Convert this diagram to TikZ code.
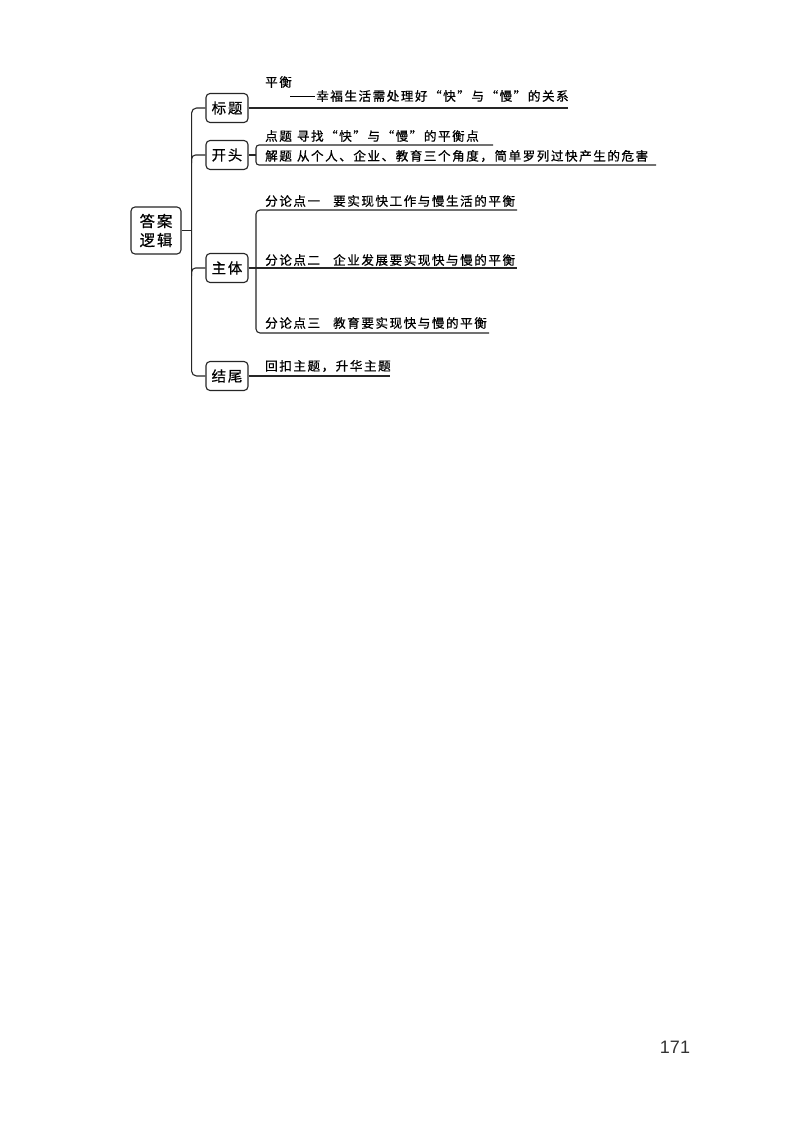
\documentclass[tikz,border=0pt]{standalone}
\usepackage{fontspec}
\setmainfont{Liberation Sans}
\newfontfamily\cjk{Noto Sans CJK SC}[LetterSpace=12, FakeBold=0.6]
\begin{document}
\begin{tikzpicture}[x=1pt,y=-1pt,
  ln/.style={line width=1.1pt, draw=black!85},
  box/.style={draw=black!85, line width=1.1pt, rounded corners=4pt, minimum width=42pt, minimum height=29pt, inner sep=0pt, font=\cjk\fontsize{14.5}{16}\selectfont},
  lbl/.style={anchor=west, inner sep=0pt, font=\cjk\fontsize{12.6}{14}\selectfont}]
\useasboundingbox[fill=white] (0,0) rectangle (800,1128);

% boxes
\node[box, minimum width=50pt, minimum height=47pt, align=center, font=\cjk\fontsize{15.5}{19}\selectfont] (root) at (156,230.5) {答案\\逻辑};
\node[box] (bt) at (227,108) {标题};
\node[box] (kt) at (227,155) {开头};
\node[box] (zt) at (227,268) {主体};
\node[box] (jw) at (227,376) {结尾};

% trunk
\draw[ln] (root.east) -- ++(10,0) coordinate (trm);
\draw[ln,rounded corners=5pt] (bt.west) -- (bt.west -| trm) -- (jw.west -| trm) -- (jw.west);
\draw[ln,rounded corners=4pt] ([yshift=-8pt]kt.west -| trm) |- (kt.west);
\draw[ln,rounded corners=4pt] ([yshift=-8pt]zt.west -| trm) |- (zt.west);

% 标题
\node[lbl] (t1) at (265,82) {平衡};
\node[lbl] (t2) at (290,96) {\rule[0.33em]{25pt}{0.6pt}\hspace{1pt}幸福生活需处理好“快”与“慢”的关系};
\coordinate (btend) at (568,108);
\draw[ln] (bt.east) -- (btend);

% 开头
\node[lbl] (k1) at (265,136) {点题\hspace{5pt}寻找“快”与“慢”的平衡点};
\node[lbl] (k2) at (265,156) {解题\hspace{5pt}从个人、企业、教育三个角度，简单罗列过快产生的危害};
\coordinate (kb) at (256,155);
\draw[ln] (kt.east) -- (kb);
\draw[ln,rounded corners=3pt] (493,145) -- (256,145) -- (256,165) -- (656,165);

% 主体
\node[lbl] (z1) at (265,201) {分论点一\hspace{13pt}要实现快工作与慢生活的平衡};
\node[lbl] (z2) at (265,260) {分论点二\hspace{13pt}企业发展要实现快与慢的平衡};
\node[lbl] (z3) at (265,323) {分论点三\hspace{13pt}教育要实现快与慢的平衡};
\coordinate (zend) at (517,268);
\draw[ln] (zt.east) -- (zend);
\draw[ln,rounded corners=4pt] (517,210) -- (256,210) -- (256,333) -- (489,333);

% 结尾
\node[lbl] (j1) at (265,366) {回扣主题，升华主题};
\coordinate (jend) at (390,376);
\draw[ln] (jw.east) -- (jend);

% page number
\node[inner sep=0pt, font=\fontsize{18}{20}\selectfont, text=black!80] (pg) at (675,1047) {171};
\end{tikzpicture}
\end{document}
